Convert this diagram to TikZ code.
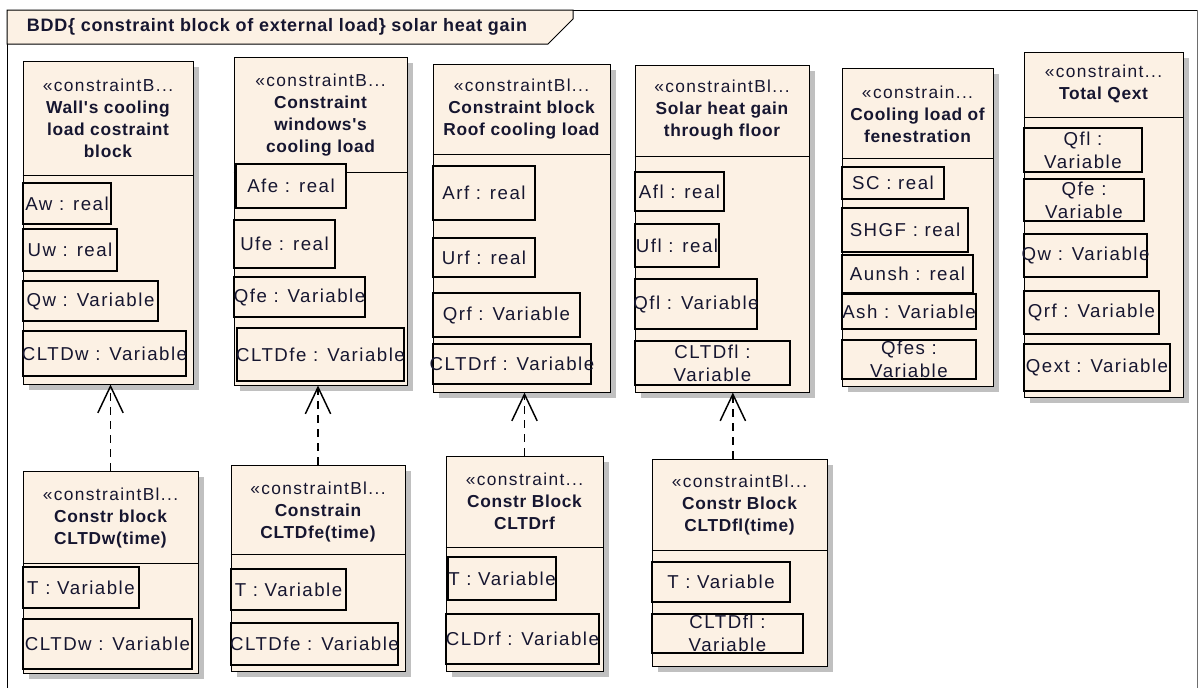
\documentclass[tikz,border=0pt]{standalone}
\usepackage{fontspec}
\setmainfont{Liberation Sans}
\newfontfamily\eafont[LetterSpace=4]{Liberation Sans}
\newfontfamily\eawide[LetterSpace=8]{Liberation Sans}
\usetikzlibrary{arrows.meta,fit,shadows}

\definecolor{blockfill}{RGB}{252,241,228}
\definecolor{shadowgray}{RGB}{192,192,192}
\definecolor{inkblue}{RGB}{22,22,48}
\definecolor{framegray}{RGB}{110,110,110}

\tikzset{every picture/.style={line width=0.75pt}}
\tikzset{
  blockbox/.style={draw=black, fill=blockfill, inner sep=0pt,
    general shadow={fill=shadowgray, shadow xshift=4.5pt, shadow yshift=-4.5pt}},
  partbox/.style={draw=black, fill=blockfill, line width=1.1pt},
  parttext/.style={text=inkblue, font=\eawide\fontsize{14}{17}\selectfont, align=center, inner sep=0pt},
  titletext/.style={text=inkblue, font=\eafont\fontsize{13}{16.5}\selectfont\bfseries, align=center},
  depend/.style={draw=black, line width=1.1pt, dash pattern=on 6pt off 4.5pt,
    -{Straight Barb[length=20pt,width=19pt,line width=1.1pt]}},
}
\newcommand{\stereo}[1]{{\eawide\mdseries #1}}

\begin{document}
\begin{tikzpicture}[x=0.75pt,y=0.75pt,yscale=-1,xscale=1]
\useasboundingbox (0,0) rectangle (1199,687);

%Shape: Frame
\draw (7,690) -- (7,10) -- (1197,10);
\draw [framegray] (1197,10) -- (1197,690);
%Shape: Frame header
\draw [fill=blockfill] (7,10) -- (573,10) -- (573,19) -- (548,44) -- (7,44) -- cycle;
% Text Node
\node [text=inkblue, font=\eafont\fontsize{13.5}{16}\selectfont\bfseries, anchor=west] (hdr) at (22,27) {BDD\{ constraint block of external load\} solar heat gain};

%Shape: Block - wall
\node [blockbox, fit={(23,61) (193,384)}] (wall) {};
\draw (wall.west |- 0,175) -- (wall.east |- 0,175);
% Text Node
\node [titletext] (wall-t) at (108,118) {\stereo{«constraintB...}\\Wall's cooling\\load costraint\\block};
\draw [partbox] (23,183) rectangle (111,224) node [midway, parttext] (aw) {Aw : real};
\draw [partbox] (23,229) rectangle (117,271) node [midway, parttext] (uw) {Uw : real};
\draw [partbox] (23,281) rectangle (158,321) node [midway, parttext] (qw) {Qw : Variable};
\draw [partbox] (23,331) rectangle (186,376) node [midway, parttext] (cltdw) {CLTDw : Variable};

%Shape: Block - window
\node [blockbox, fit={(234,57) (407,385)}] (window) {};
\draw (window.west |- 0,172) -- (window.east |- 0,172);
% Text Node
\node [titletext] (window-t) at (320.5,115) {\stereo{«constraintB...}\\Constraint\\windows's\\cooling load};
\draw [partbox] (236,164) rectangle (346,208) node [midway, parttext] (afe) {Afe : real};
\draw [partbox] (234,220) rectangle (335,268) node [midway, parttext] (ufe) {Ufe : real};
\draw [partbox] (234,277) rectangle (365,317) node [midway, parttext] (qfe) {Qfe : Variable};
\draw [partbox, line width=1.6pt] (237,328) rectangle (404,381) node [midway, parttext] (cltdfe) {CLTDfe : Variable};

%Shape: Block - roof
\node [blockbox, fit={(433,64) (610,392)}] (roof) {};
\draw (roof.west |- 0,154) -- (roof.east |- 0,154);
% Text Node
\node [titletext] (roof-t) at (521.5,109) {\stereo{«constraintBl...}\\Constraint block\\Roof cooling load};
\draw [partbox] (433,166) rectangle (535,220) node [midway, parttext] (arf) {Arf : real};
\draw [partbox] (433,238) rectangle (535,277) node [midway, parttext] (urf) {Urf : real};
\draw [partbox] (433,293) rectangle (580,337) node [midway, parttext] (qrf) {Qrf : Variable};
\draw [partbox] (433,344) rectangle (591,384) node [midway, parttext] (cltdrf) {CLTDrf : Variable};

%Shape: Block - floor
\node [blockbox, fit={(635,65) (809,392)}] (floor) {};
\draw (floor.west |- 0,156) -- (floor.east |- 0,156);
% Text Node
\node [titletext] (floor-t) at (722,110) {\stereo{«constraintBl...}\\Solar heat gain\\through floor};
\draw [partbox] (635,172) rectangle (724,211) node [midway, parttext] (afl) {Afl : real};
\draw [partbox] (635,224) rectangle (719,267) node [midway, parttext] (ufl) {Ufl : real};
\draw [partbox] (635,279) rectangle (757,329) node [midway, parttext] (qfl) {Qfl : Variable};
\draw [partbox] (635,341) rectangle (790,385) node [midway, parttext] (cltdfl) {CLTDfl :\\Variable};

%Shape: Block - fenestration
\node [blockbox, fit={(842,68) (993,386)}] (fenes) {};
\draw (fenes.west |- 0,158) -- (fenes.east |- 0,158);
% Text Node
\node [titletext] (fenes-t) at (917.5,114) {\stereo{«constrain...}\\Cooling load of\\fenestration};
\draw [partbox] (842,167) rectangle (944,199) node [midway, parttext] (sc) {SC : real};
\draw [partbox] (842,208) rectangle (968,252) node [midway, parttext] (shgf) {SHGF : real};
\draw [partbox] (842,255) rectangle (973,293) node [midway, parttext] (aunsh) {Aunsh : real};
\draw [partbox] (842,294) rectangle (976,329) node [midway, parttext] (ash) {Ash : Variable};
\draw [partbox] (842,340) rectangle (976,379) node [midway, parttext] (qfes) {Qfes :\\Variable};

%Shape: Block - total
\node [blockbox, fit={(1024,52) (1183,397)}] (total) {};
\draw (total.west |- 0,117) -- (total.east |- 0,117);
% Text Node
\node [titletext] (total-t) at (1103.5,84) {\stereo{«constraint...}\\Total Qext};
\draw [partbox] (1024,128) rectangle (1142,172) node [midway, parttext] (qfl-tot) {Qfl :\\Variable};
\draw [partbox] (1024,179) rectangle (1144,221) node [midway, parttext] (qfe-tot) {Qfe :\\Variable};
\draw [partbox] (1024,234) rectangle (1147,277) node [midway, parttext] (qw-tot) {Qw : Variable};
\draw [partbox] (1024,291) rectangle (1159,334) node [midway, parttext] (qrf-tot) {Qrf : Variable};
\draw [partbox] (1024,344) rectangle (1170,391) node [midway, parttext] (qext) {Qext : Variable};

%Shape: Block - CLTDw(time)
\node [blockbox, fit={(23,471) (198,673)}] (cltdwt) {};
\draw (cltdwt.west |- 0,563) -- (cltdwt.east |- 0,563);
% Text Node
\node [titletext] (cltdwt-t) at (110.5,518) {\stereo{«constraintBl...}\\Constr block\\CLTDw(time)};
\draw [partbox] (23,567) rectangle (139,608) node [midway, parttext] (t-w) {T : Variable};
\draw [partbox] (23,619) rectangle (192,669) node [midway, parttext] (cltdw-b) {CLTDw : Variable};

%Shape: Block - CLTDfe(time)
\node [blockbox, fit={(231,465) (405,671)}] (cltdfet) {};
\draw (cltdfet.west |- 0,554) -- (cltdfet.east |- 0,554);
% Text Node
\node [titletext] (cltdfet-t) at (318,512) {\stereo{«constraintBl...}\\Constrain\\CLTDfe(time)};
\draw [partbox] (231,569) rectangle (346,610) node [midway, parttext] (t-fe) {T : Variable};
\draw [partbox] (231,623) rectangle (398,665) node [midway, parttext] (cltdfe-b) {CLTDfe : Variable};

%Shape: Block - CLTDrf
\node [blockbox, fit={(446,456) (603,671)}] (cltdrft) {};
\draw (cltdrft.west |- 0,547) -- (cltdrft.east |- 0,547);
% Text Node
\node [titletext] (cltdrft-t) at (524.5,501) {\stereo{«constraint...}\\Constr Block\\CLTDrf};
\draw [partbox] (448,557) rectangle (556,600) node [midway, parttext] (t-rf) {T : Variable};
\draw [partbox] (446,614) rectangle (599,664) node [midway, parttext] (cldrf) {CLDrf : Variable};

%Shape: Block - CLTDfl(time)
\node [blockbox, fit={(652,459) (827,666)}] (cltdflt) {};
\draw (cltdflt.west |- 0,550) -- (cltdflt.east |- 0,550);
% Text Node
\node [titletext] (cltdflt-t) at (739.5,505) {\stereo{«constraintBl...}\\Constr Block\\CLTDfl(time)};
\draw [partbox] (652,562) rectangle (790,602) node [midway, parttext] (t-fl) {T : Variable};
\draw [partbox] (652,614) rectangle (803,653) node [midway, parttext] (cltdfl-b) {CLTDfl :\\Variable};

%Dependencies
\draw [depend] (cltdwt.north) -- (cltdwt.north |- wall.south);
\draw [depend] (cltdfet.north) -- (cltdfet.north |- window.south);
\draw [depend] (cltdrft.north) -- (cltdrft.north |- roof.south);
\draw [depend] ([xshift=-5pt]cltdflt.north) -- ([xshift=-5pt]cltdflt.north |- floor.south);

\end{tikzpicture}
\end{document}
